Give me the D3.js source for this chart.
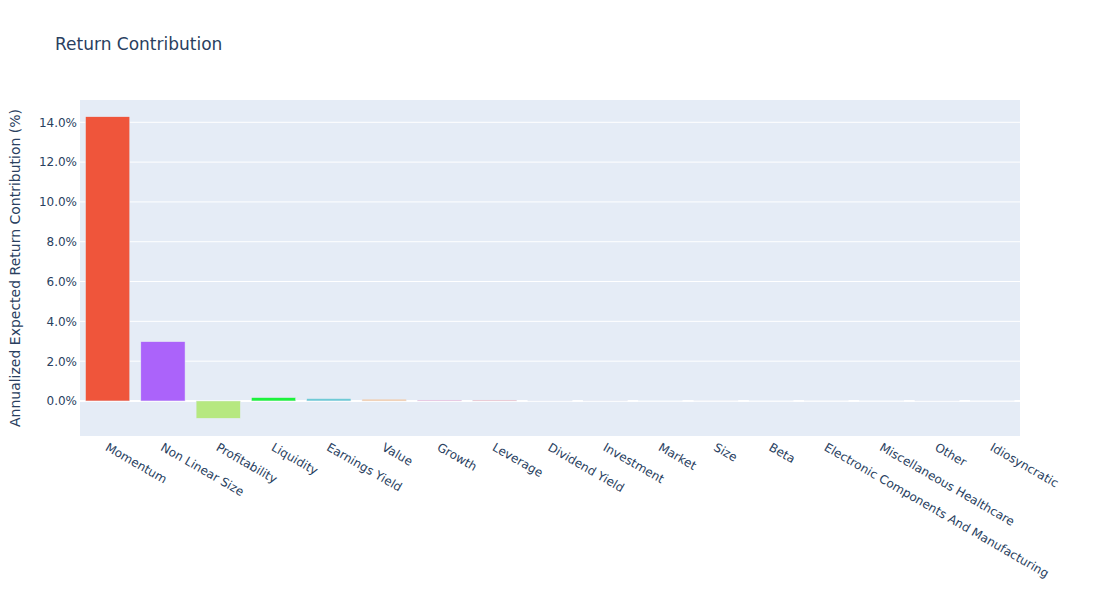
<!DOCTYPE html>
<html>
<head>
<meta charset="utf-8">
<script src="https://cdn.jsdelivr.net/npm/d3@7"></script>
<style>
  body { margin: 0; background: #fff; }
  svg { font-family: "DejaVu Sans", verdana, arial, sans-serif; }
</style>
</head>
<body>
<div id="chart"></div>
<script>
// factor names, in plot order
const factors = [
  "Momentum", "Non Linear Size", "Profitability", "Liquidity", "Earnings Yield",
  "Value", "Growth", "Leverage", "Dividend Yield", "Investment", "Market",
  "Size", "Beta", "Electronic Components And Manufacturing",
  "Miscellaneous Healthcare", "Other", "Idiosyncratic"
];

// annualized expected return contribution, in %
const contributions = [
  14.28, 2.98, -0.87, 0.17, 0.12,
  0.09, 0.05, 0.05, 0.02, 0.02, 0.01,
  0.01, 0.01, 0.01,
  0.01, 0.02, 0.01
];

const barColors = [
  "#EF553B", "#AB63FA", "#B6E880", "#1CF23C", "#6FCAD6",
  "#F4C79E", "#E9A6CF", "#EFAAB4", "#F2DDE6", "#F6D9D9", "#E6EEF8",
  "#F3E4E4", "#E8EEF6", "#F1E7EA",
  "#E9EEF7", "#F6E2E2", "#E9EEF6"
];

const yTicks = [0, 2, 4, 6, 8, 10, 12, 14];

const W = 1100, H = 616;
const margin = {top: 100, right: 80, bottom: 180, left: 80};
const width = W - margin.left - margin.right,
  height = H - margin.top - margin.bottom;

const svg = d3.select("#chart")
  .append("svg")
    .attr("width", W)
    .attr("height", H);

svg.append("rect")
  .attr("x", margin.left)
  .attr("y", margin.top)
  .attr("width", width)
  .attr("height", height)
  .attr("fill", "#E5ECF6");

const g = svg.append("g")
  .attr("transform", "translate(" + margin.left + "," + margin.top + ")");

const x = d3.scaleBand()
  .domain(factors)
  .range([0, width])
  .paddingInner(0.2)
  .paddingOuter(0.1);

const y = d3.scaleLinear()
  .domain([-1.76, 15.12])
  .range([height, 0]);

// grid lines
g.selectAll(".grid")
  .data(yTicks.filter(d => d !== 0))
  .enter()
  .append("line")
    .attr("class", "grid")
    .attr("x1", 0)
    .attr("x2", width)
    .attr("y1", d => y(d))
    .attr("y2", d => y(d))
    .attr("stroke", "#fff")
    .attr("stroke-width", 1);

// zero line, under the bars
g.append("line")
  .attr("x1", 0)
  .attr("x2", width)
  .attr("y1", y(0))
  .attr("y2", y(0))
  .attr("stroke", "#fff")
  .attr("stroke-width", 2);

// bars
g.selectAll(".bar")
  .data(contributions)
  .enter()
  .append("rect")
    .attr("class", "bar")
    .attr("x", (d, i) => x(factors[i]))
    .attr("width", x.bandwidth())
    .attr("y", d => y(Math.max(0, d)))
    .attr("height", d => Math.abs(y(d) - y(0)))
    .attr("fill", (d, i) => barColors[i])
    .attr("stroke", "#E5ECF6")
    .attr("stroke-width", 0.5);

// y axis labels
const yAxis = g.append("g")
  .call(d3.axisLeft(y).tickValues(yTicks).tickSize(0).tickPadding(3)
    .tickFormat(d => d.toFixed(1) + "%"));
yAxis.select(".domain").remove();
yAxis.selectAll("text")
  .attr("fill", "#2a3f5f")
  .style("font-size", "12px")
  .style("font-family", "\"DejaVu Sans\", verdana, arial, sans-serif");

// x axis labels, rotated
g.selectAll(".xlab")
  .data(factors)
  .enter()
  .append("text")
    .attr("class", "xlab")
    .attr("transform", d => "translate(" + (x(d) + x.bandwidth() / 2 - 1) + "," + (height + 10) + ") rotate(30)")
    .attr("dy", "0.35em")
    .attr("text-anchor", "start")
    .attr("fill", "#2a3f5f")
    .style("font-size", "12px")
    .text(d => d);

// y axis title
svg.append("text")
  .attr("transform", "translate(20," + (margin.top + height / 2) + ") rotate(-90)")
  .attr("text-anchor", "middle")
  .attr("fill", "#2a3f5f")
  .style("font-size", "14px")
  .text("Annualized Expected Return Contribution (%)");

// title
svg.append("text")
  .attr("x", 55)
  .attr("y", 50)
  .attr("fill", "#2a3f5f")
  .style("font-size", "17px")
  .text("Return Contribution");
</script>
</body>
</html>
